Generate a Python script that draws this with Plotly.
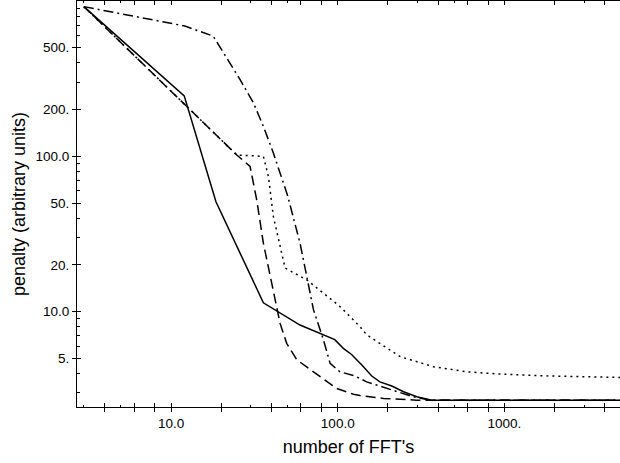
import plotly.graph_objects as go

# curve data (x = number of FFT's, y = penalty)
solid_x = [3, 12, 18.6, 35.8, 59.4, 96, 108, 121, 139, 160, 179, 211, 248, 298, 366, 5000]
solid_y = [920, 245, 51, 11.4, 8.2, 6.6, 5.8, 5.3, 4.55, 3.85, 3.53, 3.32, 3.05, 2.83, 2.69, 2.69]

dashed_x = [3, 24.8, 29.8, 32.7, 35.8, 41.1, 45.1, 49.4, 56.8, 71.5, 98.6, 124, 136, 188, 298, 5000]
dashed_y = [920, 102, 86, 52, 27.6, 13.1, 8.4, 6.25, 4.9, 4.1, 3.2, 2.94, 2.88, 2.76, 2.69, 2.69]

dotted_x = [3, 24.8, 35.8, 38.4, 41.1, 48.3, 65.2, 82, 103, 136, 149, 237, 375, 594, 942, 1880, 5000]
dotted_y = [920, 102, 100, 74, 41, 19.1, 16, 13.1, 10.8, 8.0, 7.1, 5.13, 4.42, 4.1, 3.96, 3.85, 3.77]

dashdot_x = [3, 12.1, 17.9, 25.9, 31.2, 35.8, 41.1, 50, 59.4, 71.5, 82, 90, 103, 127, 149, 197, 237, 284, 357, 5000]
dashdot_y = [920, 690, 594, 313, 221, 156, 105, 56, 27.6, 10.3, 6.6, 4.64, 4.1, 3.85, 3.53, 3.21, 2.98, 2.83, 2.69, 2.69]

x_major = [10, 100, 1000]
x_major_text = ['10.0', '100.0', '1000.']
x_medium = [4, 6, 8, 20, 40, 60, 80, 200, 400, 600, 800, 2000, 4000]
x_small = [3, 5, 30, 50, 300, 500, 3000]

y_major = [5, 10, 20, 50, 100, 200, 500]
y_major_text = ['5.', '10.0', '20.', '50.', '100.0', '200.', '500.']
y_minor = [3, 4, 6, 7, 8, 9, 30, 40, 60, 70, 80, 90, 300, 400, 600, 700, 800, 900]

X_RANGE = [0.436, 3.693]
Y_RANGE = [0.386, 3.0]

fig = go.Figure()

# two curves on the main axes, two on the overlay axes (same ranges),
# so both axis sets get drawn: outside ticks + inside ticks = crossing ticks
styles = [
    (solid_x, solid_y, 'solid', 'x', 'y'),
    (dashed_x, dashed_y, '10px,5px', 'x', 'y'),
    (dotted_x, dotted_y, '2px,4px', 'x2', 'y2'),
    (dashdot_x, dashdot_y, '10px,4px,2px,4px', 'x2', 'y2'),
]
for xs, ys, dash, xa, ya in styles:
    fig.add_trace(go.Scatter(
        x=xs, y=ys, mode='lines', xaxis=xa, yaxis=ya,
        line=dict(color='black', width=1.5, dash=dash),
        showlegend=False, hoverinfo='skip'
    ))

axis_common = dict(type='log', showgrid=False, zeroline=False,
                   tickcolor='black', tickwidth=1)

fig.update_layout(
    width=620, height=463,
    margin=dict(l=77, r=0, t=1, b=56),
    paper_bgcolor='white', plot_bgcolor='white',
    font=dict(family='Liberation Sans, Arial, sans-serif', color='black'),
    xaxis=dict(
        **axis_common, range=X_RANGE,
        showline=True, linecolor='black', linewidth=1, mirror=True,
        ticks='outside', ticklen=4,
        tickvals=x_major + x_medium,
        ticktext=x_major_text + [''] * len(x_medium),
        tickfont=dict(size=13.5),
        title=dict(text="number of FFT's", font=dict(size=18), standoff=10),
    ),
    xaxis2=dict(
        **axis_common, range=X_RANGE, overlaying='x', anchor='y', side='bottom',
        showline=True, linecolor='black', linewidth=1,
        ticks='inside', ticklen=4, mirror='ticks',
        tickvals=x_major + x_medium, showticklabels=False,
        minor=dict(ticks='inside', ticklen=2, tickvals=x_small, tickcolor='black'),
    ),
    yaxis=dict(
        **axis_common, range=Y_RANGE,
        showline=True, linecolor='black', linewidth=1, mirror=True,
        ticks='outside', ticklen=4,
        tickvals=y_major, ticktext=y_major_text,
        tickfont=dict(size=13.5),
        title=dict(text='penalty (arbitrary units)', font=dict(size=18), standoff=5),
    ),
    yaxis2=dict(
        **axis_common, range=Y_RANGE, overlaying='y', anchor='x', side='left',
        showline=True, linecolor='black', linewidth=1,
        ticks='inside', ticklen=4,
        tickvals=y_major, showticklabels=False,
        minor=dict(ticks='inside', ticklen=3, tickvals=y_minor, tickcolor='black'),
    ),
)

fig.write_html("out.html", config={'displayModeBar': False},
               post_script="document.body.style.margin='0px';")
